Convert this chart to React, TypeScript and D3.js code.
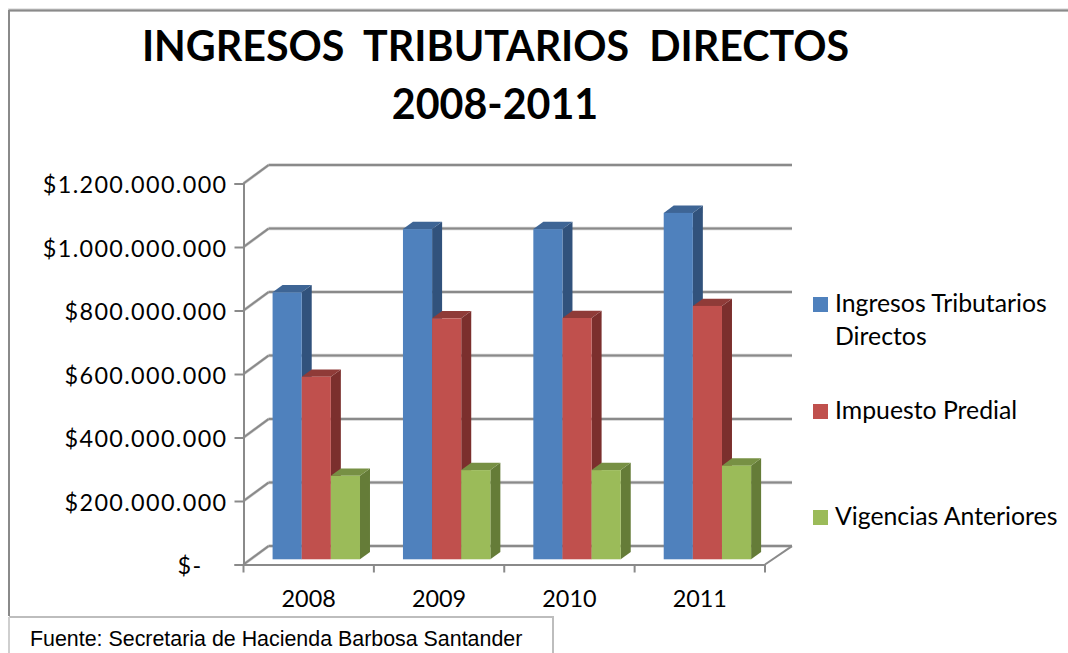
// App.tsx
import React, { useEffect, useRef } from 'react';
import * as d3 from 'd3';

const years = ['2008', '2009', '2010', '2011'];
const seriesNames = ['Ingresos Tributarios Directos', 'Impuesto Predial', 'Vigencias Anteriores'];
const ingresos = [841000000, 1040000000, 1040000000, 1091000000];
const predial = [575000000, 759000000, 760000000, 798000000];
const vigencias = [263000000, 281000000, 281000000, 295000000];
const yTicks = [0, 200000000, 400000000, 600000000, 800000000, 1000000000, 1200000000];

const frontColors = ['#4f81bd', '#c0504d', '#9bbb59'];
const topColors = ['#3e6595', '#8f3b38', '#779044'];
const sideColors = ['#31527c', '#7b2f2d', '#657c38'];

const formatTick = (d: number) =>
  d === 0 ? '$-' : '$' + d3.format(',')(d).replace(/,/g, '.');

const App = () => {
  const svgRef = useRef<SVGSVGElement>(null);

  useEffect(() => {
    const svg = d3.select(svgRef.current);
    svg.selectAll('*').remove();

    const width = 1068;
    const height = 653;
    const grey = '#8a8a8a';
    const greyLight = '#cfcfcf';
    const calibri = 'Lato, sans-serif';

    // front edge of the 3D box, then the depth offsets
    const left = 243.5;
    const right = 765;
    const bottom = 564.5;
    const top = 183.5;
    const wallDx = 25;
    const wallDy = -18.4;
    const floorDx = 27;
    const barInsetX = 7.6;
    const barInsetY = -5.2;
    const depthX = 10;
    const depthY = -7.3;

    const x0 = d3.scaleBand().domain(years).range([left, right]);
    const x1 = d3.scaleBand().domain(seriesNames).range([0, 87.4]);
    const y = d3.scaleLinear().domain([0, 1200000000]).range([bottom, top]);

    const frameLine = (x1v, y1v, x2v, y2v, color = grey, w = 2) =>
      svg.append('line')
        .attr('x1', x1v).attr('y1', y1v)
        .attr('x2', x2v).attr('y2', y2v)
        .attr('stroke', color).attr('stroke-width', w);

    // outer frame
    frameLine(8, 10, width, 10, greyLight, 3);
    frameLine(9, 10.5, width, 10.5);
    frameLine(9, 10, 9, 616);

    // title
    const title = svg.append('g')
      .attr('font-family', calibri)
      .attr('font-weight', 700)
      .attr('font-size', 41.2)
      .attr('fill', '#000')
      .attr('text-anchor', 'middle');
    title.append('text').attr('x', 495.5).attr('y', 61).attr('xml:space', 'preserve')
      .text('INGRESOS  TRIBUTARIOS  DIRECTOS');
    title.append('text').attr('x', 495).attr('y', 119).text('2008-2011');

    // back wall gridlines and their diagonals
    yTicks.forEach(t => {
      const yy = y(t);
      frameLine(left + wallDx, yy + wallDy, right + floorDx, yy + wallDy, greyLight, 3.5);
      frameLine(left, yy, left + wallDx, yy + wallDy, greyLight, 3);
    });
    yTicks.forEach(t => {
      const yy = y(t);
      frameLine(left + wallDx, yy + wallDy, right + floorDx, yy + wallDy);
      frameLine(left, yy, left + wallDx, yy + wallDy);
    });
    frameLine(right, bottom, right + floorDx, bottom + wallDy);

    // front axes
    const yAxis = d3.axisLeft(y).tickValues(yTicks).tickFormat(formatTick).tickSize(9).tickPadding(7);
    const yG = svg.append('g').attr('transform', `translate(${left},0)`).call(yAxis);
    yG.select('.domain').attr('stroke', grey).attr('stroke-width', 2);
    yG.selectAll('.tick line').attr('stroke', grey).attr('stroke-width', 2);
    yG.selectAll('.tick text')
      .attr('font-family', calibri).attr('font-size', 23.4).attr('fill', '#000')
      .attr('letter-spacing', 1.35)
      .attr('dy', 9.2)
      // the zero label sits further left, accounting format
      .attr('dx', d => (d === 0 ? -25 : 0));

    const xAxis = d3.axisBottom(x0).tickSize(0).tickPadding(25.5);
    const xG = svg.append('g').attr('transform', `translate(0,${bottom})`).call(xAxis);
    xG.select('.domain').attr('stroke', grey).attr('stroke-width', 2);
    xG.selectAll('.tick text')
      .attr('font-family', calibri).attr('font-size', 23.4).attr('fill', '#000');
    const edges = [...years.map(c => x0(c)), right];
    edges.forEach(e => frameLine(e, bottom, e, bottom + 8));

    // bars: front, top and side faces
    const poly = d3.line();
    const values = [ingresos, predial, vigencias];
    const barW = x1.bandwidth();
    const groupOffset = (x0.bandwidth() - x1.range()[1]) / 2 + barInsetX;
    years.forEach((year, i) => {
      seriesNames.forEach((name, s) => {
        const xa = x0(year) + groupOffset + x1(name);
        const xb = xa + barW;
        const yt = y(values[s][i]) + barInsetY;
        const yb = bottom + barInsetY;
        const g = svg.append('g');
        g.append('path')
          .attr('d', poly([[xb, yt], [xb + depthX, yt + depthY], [xb + depthX, yb + depthY], [xb, yb]]))
          .attr('fill', sideColors[s]);
        g.append('path')
          .attr('d', poly([[xa, yt], [xa + depthX, yt + depthY], [xb + depthX, yt + depthY], [xb, yt]]))
          .attr('fill', topColors[s]);
        g.append('rect')
          .attr('x', xa).attr('y', yt)
          .attr('width', barW).attr('height', yb - yt)
          .attr('fill', frontColors[s]);
      });
    });

    // legend
    const legend = svg.append('g')
      .attr('font-family', calibri).attr('font-size', 24.8).attr('fill', '#000');
    const legendRows = [
      { square: 297, lines: [['Ingresos Tributarios', 312], ['Directos', 344.5]] },
      { square: 404, lines: [['Impuesto Predial', 419]] },
      { square: 510, lines: [['Vigencias Anteriores', 524.5]] },
    ];
    legendRows.forEach((row, s) => {
      legend.append('rect')
        .attr('x', 813).attr('y', row.square)
        .attr('width', 15).attr('height', 15)
        .attr('fill', frontColors[s]);
      row.lines.forEach(([label, base]) => {
        legend.append('text').attr('x', 835).attr('y', base).text(label);
      });
    });

    // source note box
    svg.append('path')
      .attr('d', 'M9,617H553V653')
      .attr('fill', 'none').attr('stroke', '#bdbdbd').attr('stroke-width', 2);
    frameLine(9, 617, 9, 653, '#cfcfcf', 2);
    svg.append('text')
      .attr('x', 30).attr('y', 646)
      .attr('font-family', '"Liberation Sans", Arial, sans-serif')
      .attr('font-size', 21.4)
      .attr('fill', '#000')
      .text('Fuente: Secretaria de Hacienda Barbosa Santander');
  }, []);

  return (
    <svg
      ref={svgRef}
      width={1068}
      height={653}
      style={{ position: 'absolute', left: 0, top: 0, background: '#fff' }}
    />
  );
};

export default App;
